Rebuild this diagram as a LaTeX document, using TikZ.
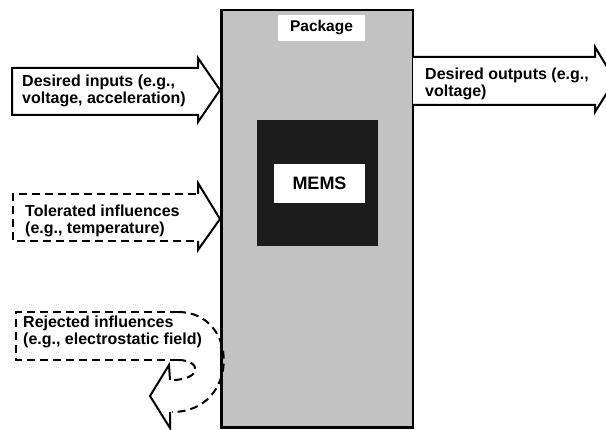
\documentclass[tikz,border=0pt]{standalone}
\usepackage{fontspec}
\setmainfont{Liberation Sans}
\definecolor{pkggray}{HTML}{C2C2C2}
\definecolor{memsdark}{HTML}{1C1C1C}
\tikzset{
  lbl/.style={anchor=west, align=left, inner sep=0pt, font=\fontsize{16}{17}\selectfont\bfseries},
  arrowline/.style={line width=2pt, line join=miter},
  dashline/.style={line width=2pt, dash pattern=on 8pt off 5pt},
  whitebox/.style={fill=white, draw=none}
}
\begin{document}
\begin{tikzpicture}[x=1pt, y=-1pt]
\useasboundingbox (0,0) rectangle (606,430);

% package body
\fill[pkggray] (221,10) rectangle (413,428);
\draw[line width=1.5pt] (221,10) rectangle (413,428);
\draw[line width=3pt] (221,9) -- (221,428) -- (414,428);
\node[whitebox, minimum width=87pt, minimum height=26pt] (pkglbl) at (321.5,28) {};
\node[font=\fontsize{15.5}{16}\selectfont\bfseries, inner sep=0pt] (pkg) at (pkglbl.center) {Package};

% MEMS die
\fill[memsdark] (257,120) rectangle (378,246);
\node[whitebox, minimum width=91pt, minimum height=39pt] (memsbox) at (319.5,183.5) {};
\node[font=\fontsize{18}{18}\selectfont\bfseries, inner sep=0pt] (mems) at (memsbox.center) {MEMS};

% desired inputs
\filldraw[arrowline, fill=white] (12,68) -- (198,68) -- (198,58) -- (220,90) -- (198,122) -- (198,115) -- (12,115) -- cycle;
\node[lbl] (din) at (22,91) {Desired inputs (e.g.,\\voltage, acceleration)};

% desired outputs
\fill[white] (413,57) -- (595,57) -- (595,47) -- (615,80) -- (595,112) -- (595,105) -- (413,105) -- cycle;
\draw[arrowline] (413,57) -- (595,57) -- (595,47) -- (615,80) -- (595,112) -- (595,105) -- (413,105);
\node[lbl] (dout) at (425,84) {Desired outputs (e.g.,\\voltage)};

% tolerated influences
\draw[dashline] (196,194) -- (13,194) -- (13,241) -- (196,241);
\draw[arrowline] (198,194) -- (198,183) -- (220,219) -- (198,250) -- (198,241);
\node[lbl] (tol) at (25,221) {Tolerated influences\\(e.g., temperature)};

% rejected influences, turned back by the package
\draw[dashline] (178,312) -- (16,312) -- (16,360) -- (178,360);
\draw[dashline] (178,312) .. controls (240,312) and (240,412) .. (172,412);
\draw[dashline] (178,360) .. controls (202,360) and (202,380) .. (172,380);
\draw[arrowline] (170,380) -- (169,365) -- (150,396) -- (170,428) -- (170,412);
\node[lbl] (rej) at (23,332) {Rejected influences\\(e.g., electrostatic field)};
\end{tikzpicture}
\end{document}
